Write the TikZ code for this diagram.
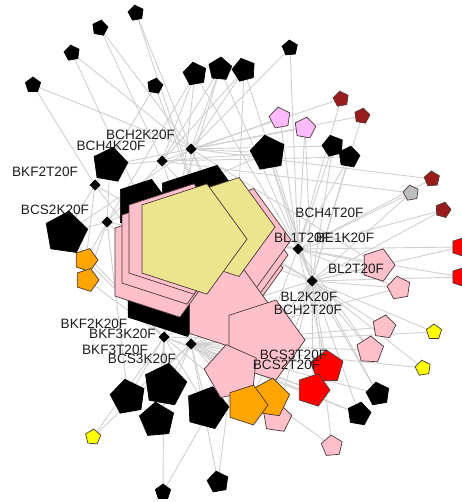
\documentclass[tikz,border=0pt]{standalone}
\usepackage{fontspec}
\setmainfont{Liberation Sans}
\usetikzlibrary{shapes.geometric}
\pgfdeclarelayer{bgl}
\pgfdeclarelayer{lnklayer}
\pgfsetlayers{bgl,lnklayer,main}
\definecolor{pnkc}{HTML}{FFC0CB}
\definecolor{khk}{HTML}{EDE58E}
\definecolor{orc}{HTML}{FFA500}
\definecolor{drc}{HTML}{9B1C1C}
\definecolor{lil}{HTML}{FFBBFF}
\definecolor{grc}{HTML}{BEBEBE}
\definecolor{ylc}{HTML}{FFFF00}
\definecolor{redc}{HTML}{FF0000}
\definecolor{lnc}{HTML}{D0D0D0}
\definecolor{strk}{HTML}{4A3838}
\definecolor{labc}{HTML}{1E1E1E}
\tikzset{
  pent/.style={regular polygon, regular polygon sides=5, inner sep=0pt, outer sep=0pt, line width=0.7pt},
  sz/.style={minimum size=2*#1pt},
  rr/.style={shape border rotate=#1},
  blk/.style={pent, fill=black, draw=black},
  pnk/.style={pent, fill=pnkc, draw=strk},
  ylw/.style={pent, fill=khk, draw=strk},
  org/.style={pent, fill=orc, draw=strk},
  drd/.style={pent, fill=drc, draw=strk},
  red/.style={pent, fill=redc, draw=strk},
  gry/.style={pent, fill=grc, draw=strk},
  lilac/.style={pent, fill=lil, draw=strk},
  yel/.style={pent, fill=ylc, draw=strk},
  dia/.style={diamond, fill=black, inner sep=0pt, outer sep=0pt, minimum size=11pt},
  lnk/.style={draw=lnc, line width=0.9pt},
  lab/.style={font=\fontsize{13.6pt}{15pt}\selectfont, text=labc, inner sep=0pt}
}
\begin{document}
\begin{tikzpicture}[x=1pt,y=-1pt]
\useasboundingbox (0,0) rectangle (461,502);
\begin{pgfonlayer}{bgl}
\fill[white] (0,0) rectangle (461,502);
\end{pgfonlayer}

% outer nodes
\node[blk,sz=8,rr=10] (b1) at (136,13) {};
\node[blk,sz=8,rr=-10] (b2) at (100,28) {};
\node[blk,sz=8,rr=10] (b3) at (72,53) {};
\node[blk,sz=8,rr=0] (b4) at (33,85) {};
\node[blk,sz=8,rr=-10] (b5) at (155,86) {};
\node[blk,sz=8,rr=5] (b6) at (290,48) {};
\node[blk,sz=12,rr=10] (b9) at (195,74) {};
\node[blk,sz=12,rr=-5] (b10) at (220,69) {};
\node[blk,sz=12,rr=15] (b11) at (244,70) {};
\node[blk,sz=18,rr=10] (b16) at (268,153) {};
\node[blk,sz=18,rr=-10] (b17) at (110,165) {};
\node[blk,sz=22,rr=-80] (b18) at (66,233) {};
\node[blk,sz=11,rr=15] (b12) at (333,146) {};
\node[blk,sz=11,rr=-10] (b13) at (349,157) {};
\node[lilac,sz=11,rr=10] (l1) at (280,118) {};
\node[lilac,sz=11,rr=-10] (l2) at (305,128) {};
\node[drd,sz=8,rr=10] (dr1) at (341,99) {};
\node[drd,sz=8,rr=-10] (dr2) at (362,116) {};
\node[drd,sz=8,rr=5] (dr3) at (432,179) {};
\node[drd,sz=8,rr=-15] (dr4) at (443,210) {};
\node[gry,sz=8,rr=10] (g1) at (411,193) {};
\node[red,sz=10,rr=-90] (rd1) at (461,247) {};
\node[red,sz=10,rr=-90] (rd2) at (461,277) {};
\node[pnk,sz=17,rr=-90] (pk1) at (378,265) {};
\node[pnk,sz=12,rr=10] (pk2) at (399,288) {};
\node[pnk,sz=12,rr=-80] (pk3) at (384,327) {};
\node[pnk,sz=14,rr=-75] (pk4) at (370,350) {};
\node[yel,sz=8,rr=0] (y1) at (434,332) {};
\node[yel,sz=8,rr=10] (y2) at (423,368) {};
\node[blk,sz=12,rr=10] (b14) at (378,394) {};
\node[blk,sz=12,rr=-10] (b15) at (359,414) {};
\node[pnk,sz=11,rr=5] (pk5) at (332,446) {};
\node[blk,sz=18,rr=10] (b19) at (128,397) {};
\node[blk,sz=22,rr=-10] (b20) at (165,385) {};
\node[blk,sz=18,rr=5] (b21) at (157,420) {};
\node[blk,sz=22,rr=-15] (b22) at (207,408) {};
\node[blk,sz=8,rr=0] (b7) at (163,492) {};
\node[blk,sz=11,rr=10] (b8) at (218,482) {};
\node[yel,sz=8,rr=-5] (y3) at (93,437) {};
\node[org,sz=12,rr=-90] (o1) at (86,260) {};
\node[org,sz=12,rr=-90] (o2) at (87,280) {};

% central cluster
\node[blk,sz=28,rr=-90] (K1) at (143,206) {};
\node[blk,sz=49,rr=-90] (K2) at (202,212) {};
\node[blk,sz=53,rr=-90] (K3) at (171,286) {};
\node[pnk,sz=54,rr=-90] (R3) at (229,268) {};
\node[pnk,sz=54,rr=-90] (R2) at (234,255) {};
\node[pnk,sz=54,rr=-90] (R1) at (237,240) {};
\node[pnk,sz=45,rr=-90] (PM) at (226,307) {};
\node[pnk,sz=58,rr=-90] (PC) at (162,262) {};
\node[pnk,sz=58,rr=-90] (PB) at (169,249) {};
\node[pnk,sz=58,rr=-90] (PA) at (176,239) {};
\node[pnk,sz=42,rr=-90] (Q1) at (263,340) {};
\node[pnk,sz=28,rr=-60] (Q2) at (232,372) {};
\node[pnk,sz=15,rr=-80] (pk6) at (277,418) {};
\node[org,sz=20,rr=-80] (o4) at (270,398) {};
\node[org,sz=21,rr=-90] (o3) at (247,405) {};
\node[red,sz=17,rr=-70] (rd3) at (327,367) {};
\node[red,sz=17,rr=-90] (rd4) at (313,390) {};
\node[ylw,sz=52,rr=-90] (Y2) at (223,227) {};
\node[ylw,sz=58,rr=-90] (Y1) at (189,239) {};

% diamonds
\node[dia] (D1) at (191,149) {};
\node[dia] (D2) at (162,161) {};
\node[dia] (D3) at (95,185) {};
\node[dia] (D4) at (107,222) {};
\node[dia] (D5) at (298,249) {};
\node[dia] (D6) at (312,281) {};
\node[dia] (D7) at (164,337) {};
\node[dia] (D8) at (191,344) {};

% links
\begin{pgfonlayer}{lnklayer}
\foreach \a/\b in {b1/D1,b1/K2,b2/D1,b2/D2,b3/D1,b3/K1,b4/D1,b4/D3,b5/D3,b5/K2,
  b9/D2,b9/D5,b9/D4,b9/K3,b10/D1,b10/D2,b10/D6,b10/PC,b11/D1,b11/D4,b11/D6,b11/R1,
  b6/D1,b6/D5,b16/D1,b16/D2,b16/D5,b16/D6,b16/D4,l1/D2,l1/D5,l2/D1,l2/D5,l2/D6,
  dr1/D1,dr1/D5,dr2/D1,dr2/D6,b12/D1,b12/D5,b12/D6,b13/D2,b13/D5,b13/D6,
  dr3/D1,dr3/D5,g1/D2,g1/D5,g1/D6,dr4/D5,dr4/D6,rd1/D5,rd1/D6,rd2/D5,rd2/D6,
  pk1/D5,pk1/D6,pk1/D1,pk2/D6,pk2/D5,pk2/D8,pk3/D6,pk3/D8,y1/D8,y1/D6,y2/D6,y2/D8,
  pk4/D6,pk4/D8,pk4/D5,rd3/D6,rd3/D8,rd3/D5,rd4/D6,rd4/D8,rd4/D7,b14/D6,b14/D8,b14/D5,
  b15/D6,b15/D8,b15/D7,pk5/D8,pk5/D6,o3/D8,o3/D6,o3/D7,o4/D6,o4/D8,pk6/D6,pk6/D8,
  b22/D8,b22/D7,b22/D6,b19/D7,b19/D8,b19/D4,b20/D7,b20/D8,b21/D7,b21/D8,
  b7/D7,b7/Q2,b8/D8,b8/Q2,y3/D7,y3/D8,b18/D3,b18/D4,b18/D1,b18/D7,
  o1/D4,o1/D7,o1/D3,o2/D4,o2/D7,b17/D1,b17/D2,b17/D3,b17/D4,
  Y1/D1,Y1/D2,Y1/D3,Y1/D4,Y1/D5,Y1/D6,Y1/D7,Y1/D8,Y2/D1,Y2/D2,Y2/D5,Y2/D6,
  R1/D5,R1/D6,R1/D1,Q1/D5,Q1/D6,Q1/D8,Q1/D7,K3/D7,K3/D8,K3/D3,K3/D4,PM/D7,PM/D8,PM/D6}
  \draw[lnk] (\a.center) -- (\b.center);
\end{pgfonlayer}

% labels
\node[lab] (t1) at (140.5,135) {BCH2K20F};
\node[lab] (t2) at (111,146) {BCH4K20F};
\node[lab] (t3) at (45,172) {BKF2T20F};
\node[lab] (t4) at (55,210) {BCS2K20F};
\node[lab] (t5) at (329.5,213) {BCH4T20F};
\node[lab] (t6) at (302,238) {BL1T20F};
\node[lab] (t7) at (345,238) {BE1K20F};
\node[lab] (t8) at (356,269) {BL2T20F};
\node[lab] (t9) at (309,297) {BL2K20F};
\node[lab] (t10) at (308,310) {BCH2T20F};
\node[lab] (t11) at (293.5,355) {BCS3T20F};
\node[lab] (t12) at (286.5,365) {BCS2T20F};
\node[lab] (t13) at (94,324) {BKF2K20F};
\node[lab] (t14) at (122.5,334) {BKF3K20F};
\node[lab] (t15) at (115,350) {BKF3T20F};
\node[lab] (t16) at (142,359) {BCS3K20F};
\end{tikzpicture}
\end{document}
